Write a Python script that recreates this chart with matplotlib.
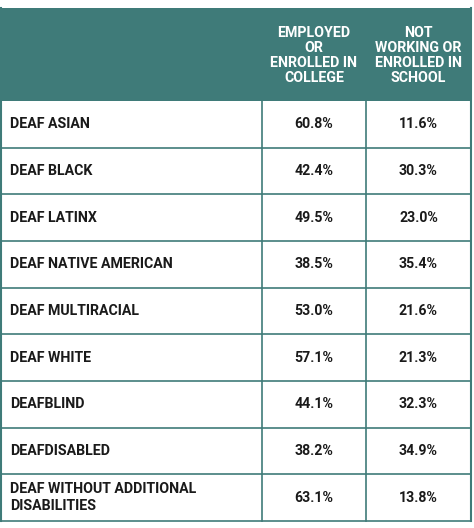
import matplotlib
matplotlib.use("Agg")
import matplotlib.pyplot as plt
from matplotlib.patches import Rectangle

groups = ["DEAF ASIAN", "DEAF BLACK", "DEAF LATINX", "DEAF NATIVE AMERICAN",
          "DEAF MULTIRACIAL", "DEAF WHITE", "DEAFBLIND", "DEAFDISABLED",
          "DEAF WITHOUT ADDITIONAL\nDISABILITIES"]
employed = [60.8, 42.4, 49.5, 38.5, 53.0, 57.1, 44.1, 38.2, 63.1]
not_working = [11.6, 30.3, 23.0, 35.4, 21.6, 21.3, 32.3, 34.9, 13.8]
headers = ["EMPLOYED\nOR\nENROLLED IN\nCOLLEGE", "NOT\nWORKING OR\nENROLLED IN\nSCHOOL"]

teal = "#3f7b79"
plt.rcParams['font.family'] = ['Roboto', 'DejaVu Sans']
fig = plt.figure(figsize=(4.74, 5.28), dpi=100)
ax = fig.add_axes([0, 0, 1, 1])
ax.set_xlim(0, 474); ax.set_ylim(528, 0); ax.axis('off')

left, right = 1.5, 471
top, htop = 8, 101
bottom = 521
cols = [left, 262, 366, right]
n = len(groups)
rh = (bottom - htop) / n
fs = 10.2

ax.add_patch(Rectangle((left, top), right - left, htop - top, color=teal, lw=0))
for j, h in enumerate(headers):
    ax.text((cols[j+1] + cols[j+2]) / 2, (top + htop) / 2 + 1, h, ha='center', va='center',
            color='white', fontsize=fs, fontweight='bold', linespacing=1.1)
for i in range(n):
    y0 = htop + i * rh
    yc = y0 + rh / 2
    ax.text(10, yc, groups[i], ha='left', va='center', fontsize=fs, fontweight='bold',
            color='#1a1a1a', linespacing=1.25)
    ax.text((cols[1] + cols[2]) / 2, yc, f"{employed[i]:.1f}%", ha='center', va='center',
            fontsize=fs, fontweight='bold', color='#1a1a1a')
    ax.text((cols[2] + cols[3]) / 2, yc, f"{not_working[i]:.1f}%", ha='center', va='center',
            fontsize=fs, fontweight='bold', color='#1a1a1a')
    ax.plot([left, right], [y0 + rh, y0 + rh], color=teal, lw=1.2)
for x in [left, right]:
    ax.plot([x, x], [top, bottom], color=teal, lw=1.5)
for x in cols[1:3]:
    ax.plot([x, x], [htop, bottom], color=teal, lw=1.2)
fig.savefig("out.png", dpi=100)
